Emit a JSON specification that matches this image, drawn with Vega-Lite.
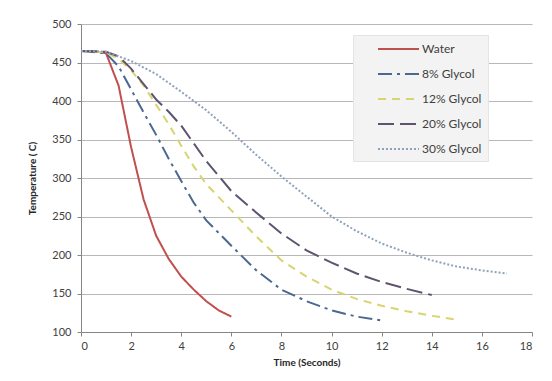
{
  "$schema": "https://vega.github.io/schema/vega-lite/v6.json",
  "width": 451,
  "height": 308,
  "autosize": {"type": "none"},
  "padding": {"left": 81, "top": 24, "right": 20, "bottom": 49},
  "background": "white",
  "config": {
    "font": "Lato",
    "view": {"stroke": null},
    "axis": {
      "labelColor": "#404040",
      "labelFontSize": 11,
      "titleFontSize": 10,
      "titleFontWeight": "bold",
      "titleColor": "#262626",
      "domainColor": "#868686",
      "tickColor": "#868686",
      "gridColor": "#b8b8b8",
      "tickSize": 4
    }
  },
  "data": {
    "values": [
      {"series": "Water", "t": 0, "temp": 465},
      {"series": "Water", "t": 0.5, "temp": 465},
      {"series": "Water", "t": 1, "temp": 462},
      {"series": "Water", "t": 1.5, "temp": 420},
      {"series": "Water", "t": 2, "temp": 340},
      {"series": "Water", "t": 2.5, "temp": 272},
      {"series": "Water", "t": 3, "temp": 225},
      {"series": "Water", "t": 3.5, "temp": 195},
      {"series": "Water", "t": 4, "temp": 172},
      {"series": "Water", "t": 4.5, "temp": 155},
      {"series": "Water", "t": 5, "temp": 140},
      {"series": "Water", "t": 5.5, "temp": 128},
      {"series": "Water", "t": 6, "temp": 120},
      {"series": "8% Glycol", "t": 0, "temp": 465},
      {"series": "8% Glycol", "t": 1, "temp": 462},
      {"series": "8% Glycol", "t": 1.5, "temp": 445},
      {"series": "8% Glycol", "t": 2, "temp": 415},
      {"series": "8% Glycol", "t": 2.5, "temp": 385},
      {"series": "8% Glycol", "t": 3, "temp": 356},
      {"series": "8% Glycol", "t": 3.5, "temp": 325},
      {"series": "8% Glycol", "t": 4, "temp": 296},
      {"series": "8% Glycol", "t": 4.5, "temp": 268},
      {"series": "8% Glycol", "t": 5, "temp": 245},
      {"series": "8% Glycol", "t": 6, "temp": 212},
      {"series": "8% Glycol", "t": 7, "temp": 180},
      {"series": "8% Glycol", "t": 8, "temp": 155},
      {"series": "8% Glycol", "t": 9, "temp": 140},
      {"series": "8% Glycol", "t": 10, "temp": 128},
      {"series": "8% Glycol", "t": 11, "temp": 120},
      {"series": "8% Glycol", "t": 12, "temp": 115},
      {"series": "12% Glycol", "t": 0, "temp": 465},
      {"series": "12% Glycol", "t": 1, "temp": 463},
      {"series": "12% Glycol", "t": 1.5, "temp": 455},
      {"series": "12% Glycol", "t": 2, "temp": 440},
      {"series": "12% Glycol", "t": 2.5, "temp": 420},
      {"series": "12% Glycol", "t": 3, "temp": 395},
      {"series": "12% Glycol", "t": 3.5, "temp": 370},
      {"series": "12% Glycol", "t": 4, "temp": 342},
      {"series": "12% Glycol", "t": 4.5, "temp": 315},
      {"series": "12% Glycol", "t": 5, "temp": 292},
      {"series": "12% Glycol", "t": 6, "temp": 258},
      {"series": "12% Glycol", "t": 7, "temp": 224},
      {"series": "12% Glycol", "t": 8, "temp": 193},
      {"series": "12% Glycol", "t": 9, "temp": 172},
      {"series": "12% Glycol", "t": 10, "temp": 155},
      {"series": "12% Glycol", "t": 11, "temp": 143},
      {"series": "12% Glycol", "t": 12, "temp": 134},
      {"series": "12% Glycol", "t": 13, "temp": 127},
      {"series": "12% Glycol", "t": 14, "temp": 121},
      {"series": "12% Glycol", "t": 15, "temp": 116},
      {"series": "20% Glycol", "t": 0, "temp": 465},
      {"series": "20% Glycol", "t": 1, "temp": 464},
      {"series": "20% Glycol", "t": 1.5, "temp": 458},
      {"series": "20% Glycol", "t": 2, "temp": 442},
      {"series": "20% Glycol", "t": 2.5, "temp": 422},
      {"series": "20% Glycol", "t": 3, "temp": 402},
      {"series": "20% Glycol", "t": 3.5, "temp": 386},
      {"series": "20% Glycol", "t": 4, "temp": 368},
      {"series": "20% Glycol", "t": 4.5, "temp": 345},
      {"series": "20% Glycol", "t": 5, "temp": 322},
      {"series": "20% Glycol", "t": 6, "temp": 283},
      {"series": "20% Glycol", "t": 7, "temp": 255},
      {"series": "20% Glycol", "t": 8, "temp": 228},
      {"series": "20% Glycol", "t": 9, "temp": 206},
      {"series": "20% Glycol", "t": 10, "temp": 190},
      {"series": "20% Glycol", "t": 11, "temp": 176},
      {"series": "20% Glycol", "t": 12, "temp": 165},
      {"series": "20% Glycol", "t": 13, "temp": 156},
      {"series": "20% Glycol", "t": 14, "temp": 148},
      {"series": "30% Glycol", "t": 0, "temp": 465},
      {"series": "30% Glycol", "t": 1, "temp": 464},
      {"series": "30% Glycol", "t": 2, "temp": 452},
      {"series": "30% Glycol", "t": 3, "temp": 435},
      {"series": "30% Glycol", "t": 4, "temp": 412},
      {"series": "30% Glycol", "t": 5, "temp": 388},
      {"series": "30% Glycol", "t": 6, "temp": 360},
      {"series": "30% Glycol", "t": 7, "temp": 330},
      {"series": "30% Glycol", "t": 8, "temp": 302},
      {"series": "30% Glycol", "t": 9, "temp": 276},
      {"series": "30% Glycol", "t": 10, "temp": 250},
      {"series": "30% Glycol", "t": 11, "temp": 231},
      {"series": "30% Glycol", "t": 12, "temp": 215},
      {"series": "30% Glycol", "t": 13, "temp": 203},
      {"series": "30% Glycol", "t": 14, "temp": 193},
      {"series": "30% Glycol", "t": 15, "temp": 185},
      {"series": "30% Glycol", "t": 16, "temp": 180},
      {"series": "30% Glycol", "t": 17, "temp": 176}
    ]
  },
  "mark": {"type": "line", "strokeWidth": 2},
  "encoding": {
    "x": {
      "field": "t",
      "type": "quantitative",
      "scale": {"domain": [0, 18], "nice": false},
      "axis": {
        "title": "Time (Seconds)",
        "values": [0, 2, 4, 6, 8, 10, 12, 14, 16, 18],
        "grid": false,
        "labelPadding": 4,
        "titlePadding": 6
      }
    },
    "y": {
      "field": "temp",
      "type": "quantitative",
      "scale": {"domain": [100, 500], "nice": false},
      "axis": {
        "title": "Temperature ( C)",
        "values": [100, 150, 200, 250, 300, 350, 400, 450, 500],
        "grid": true,
        "labelPadding": 6,
        "titlePadding": 14
      }
    },
    "color": {
      "field": "series",
      "type": "nominal",
      "scale": {
        "domain": ["Water", "8% Glycol", "12% Glycol", "20% Glycol", "30% Glycol"],
        "range": ["#c0504d", "#4a6890", "#d8d470", "#5e5470", "#8ea2bb"]
      },
      "legend": {
        "title": null,
        "orient": "none",
        "legendX": 272,
        "legendY": 11,
        "fillColor": "#f3f3f3",
        "strokeColor": "#e4e4e4",
        "padding": 6,
        "symbolType": "M1.571,0H7.43",
        "symbolSize": 196,
        "symbolStrokeWidth": 2,
        "rowPadding": 11,
        "labelOffset": 47,
        "labelFontSize": 12,
        "labelColor": "#404040"
      }
    },
    "strokeDash": {
      "field": "series",
      "type": "nominal",
      "scale": {
        "domain": ["Water", "8% Glycol", "12% Glycol", "20% Glycol", "30% Glycol"],
        "range": [[1, 0], [14, 5, 3, 5], [8, 6], [16, 6], [2, 2]]
      },
      "legend": {
        "title": null,
        "orient": "none",
        "legendX": 272,
        "legendY": 11,
        "fillColor": "#f3f3f3",
        "strokeColor": "#e4e4e4",
        "padding": 6,
        "symbolType": "M1.571,0H7.43",
        "symbolSize": 196,
        "symbolStrokeWidth": 2,
        "rowPadding": 11,
        "labelOffset": 47,
        "labelFontSize": 12,
        "labelColor": "#404040"
      }
    }
  }
}
